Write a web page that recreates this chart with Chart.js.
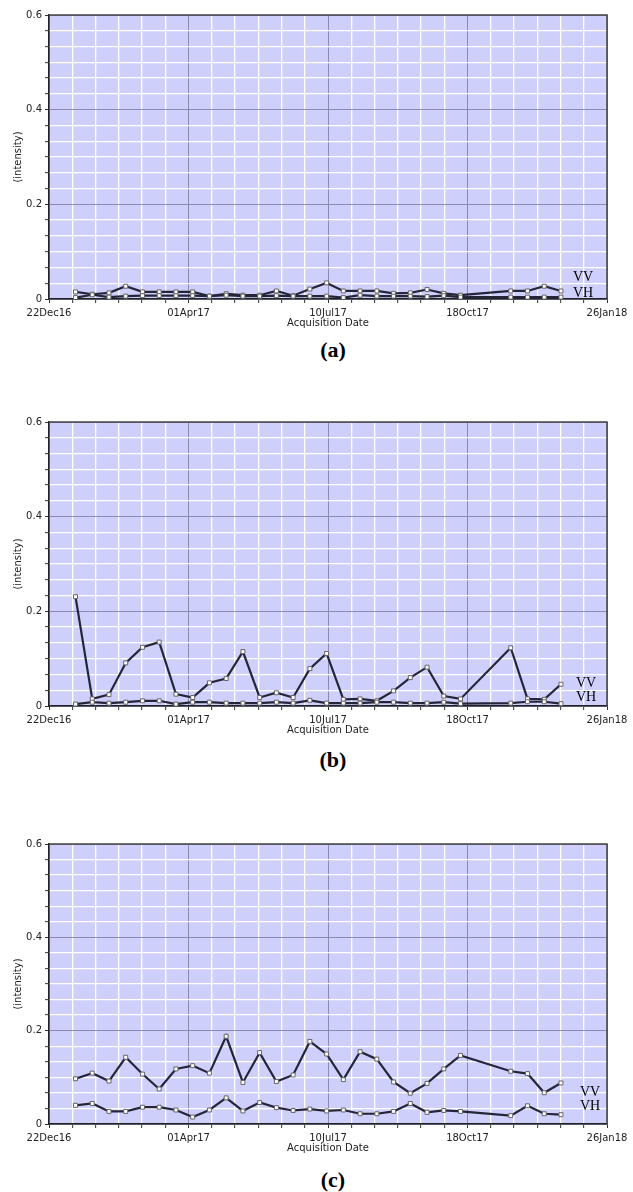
<!DOCTYPE html>
<html lang="en">
<head>
  <meta charset="UTF-8" />
  <title>VV / VH intensity vs acquisition date</title>
  <script src="https://cdn.jsdelivr.net/npm/chart.js"></script>
  <style>
    * { box-sizing: border-box; }
    html, body { margin: 0; padding: 0; background: #fff; }
    body { position: relative; width: 633px; height: 1192px; overflow: hidden; }
    canvas { position: absolute; left: 0; display: block; }
    .tag {
      position: absolute; left: 283px; width: 100px; text-align: center;
      font: bold 22px/24px "Liberation Serif", "Times New Roman", serif; color: #000;
    }
  </style>
</head>
<body>
  <canvas id="panelA" width="633" height="333" style="top:0px"></canvas>
  <div class="tag" style="top:338px">(a)</div>

  <canvas id="panelB" width="633" height="333" style="top:407px"></canvas>
  <div class="tag" style="top:748px">(b)</div>

  <canvas id="panelC" width="633" height="329" style="top:829px"></canvas>
  <div class="tag" style="top:1168px">(c)</div>

  <script>
    // --- data ---
    const startDate = '2016-12-22';
    const acqDates = [
      '2017-01-10', '2017-01-22', '2017-02-03', '2017-02-15', '2017-02-27', '2017-03-11', '2017-03-23',
      '2017-04-04', '2017-04-16', '2017-04-28', '2017-05-10', '2017-05-22', '2017-06-03', '2017-06-15',
      '2017-06-27', '2017-07-09', '2017-07-21', '2017-08-02', '2017-08-14', '2017-08-26', '2017-09-07',
      '2017-09-19', '2017-10-01', '2017-10-13', '2017-11-18', '2017-11-30', '2017-12-12', '2017-12-24'
    ];

    const vvA = [0.015, 0.010, 0.013, 0.027, 0.015, 0.015, 0.015, 0.015, 0.006, 0.011, 0.008, 0.008, 0.017, 0.007,
                 0.021, 0.034, 0.017, 0.017, 0.017, 0.012, 0.013, 0.020, 0.012, 0.008, 0.017, 0.017, 0.027, 0.017];
    const vhA = [0.003, 0.009, 0.004, 0.006, 0.007, 0.007, 0.007, 0.007, 0.006, 0.008, 0.006, 0.006, 0.007, 0.006,
                 0.006, 0.006, 0.003, 0.008, 0.006, 0.006, 0.006, 0.005, 0.007, 0.004, 0.004, 0.004, 0.004, 0.004];

    const vvB = [0.231, 0.015, 0.024, 0.091, 0.124, 0.135, 0.025, 0.018, 0.049, 0.058, 0.115, 0.018, 0.028, 0.018,
                 0.079, 0.111, 0.014, 0.015, 0.011, 0.032, 0.060, 0.082, 0.021, 0.015, 0.123, 0.015, 0.014, 0.046];
    const vhB = [0.004, 0.008, 0.006, 0.008, 0.011, 0.011, 0.004, 0.008, 0.008, 0.006, 0.006, 0.006, 0.008, 0.006,
                 0.012, 0.006, 0.006, 0.006, 0.008, 0.008, 0.006, 0.006, 0.008, 0.005, 0.006, 0.009, 0.009, 0.005];

    const vvC = [0.097, 0.109, 0.092, 0.143, 0.107, 0.075, 0.118, 0.125, 0.109, 0.188, 0.089, 0.153, 0.091, 0.105,
                 0.177, 0.150, 0.095, 0.155, 0.139, 0.090, 0.066, 0.087, 0.118, 0.147, 0.113, 0.108, 0.067, 0.088];
    const vhC = [0.040, 0.044, 0.027, 0.027, 0.036, 0.036, 0.030, 0.015, 0.030, 0.056, 0.028, 0.046, 0.035, 0.029,
                 0.032, 0.028, 0.030, 0.022, 0.022, 0.027, 0.044, 0.025, 0.029, 0.027, 0.018, 0.039, 0.022, 0.020];

    const xTickLabels = ['22Dec16', '01Apr17', '10Jul17', '18Oct17', '26Jan18'];
    const yTickLabels = ['0', '0.2', '0.4', '0.6'];

    // --- axis set-up: 100 days / 0.2 between labels, 6 minor steps each ---
    const SUB = 6;
    const DAY = 86400000;
    const t0 = Date.parse(startDate);
    const dayOf = d => Math.round((Date.parse(d) - t0) / DAY);
    const xDays = acqDates.map(dayOf);
    const xMax = 100 * (xTickLabels.length - 1);
    const yMax = 0.2 * (yTickLabels.length - 1);
    const xTickVals = [];
    for (let i = 0; i <= SUB * (xTickLabels.length - 1); i++) xTickVals.push(i * 100 / SUB);
    const yTickVals = [];
    for (let i = 0; i <= SUB * (yTickLabels.length - 1); i++) yTickVals.push(i * 0.2 / SUB);

    const AXIS_FONT = { family: 'DejaVu Sans', size: 10 };
    const TEXT = '#222';
    const MAJOR = '#8b8bb0', MINOR = '#ffffff';

    const plotFrame = {
      id: 'plotFrame',
      beforeDraw(chart) {
        const { ctx, chartArea: a } = chart;
        ctx.save();
        ctx.fillStyle = '#cfcffb';
        ctx.fillRect(a.left, a.top, a.right - a.left, a.bottom - a.top);
        ctx.restore();
      },
      beforeDatasetsDraw(chart) {
        const { ctx, chartArea: a } = chart;
        ctx.save();
        ctx.strokeStyle = '#444';
        ctx.lineWidth = 1.5;
        ctx.beginPath();
        ctx.moveTo(a.left, a.top);
        ctx.lineTo(a.right, a.top);
        ctx.lineTo(a.right, a.bottom);
        ctx.stroke();
        ctx.restore();
      },
      afterDraw(chart, args, opts) {
        const { ctx, chartArea: a } = chart;
        ctx.save();
        ctx.font = '14px "Liberation Serif", "Times New Roman", serif';
        ctx.fillStyle = '#000';
        ctx.textAlign = 'center';
        ctx.textBaseline = 'middle';
        opts.tags.forEach(t => ctx.fillText(t.text, a.right - t.dx, a.bottom - t.dy));
        ctx.restore();
      }
    };

    function series(label, values) {
      return {
        label,
        data: values.map((v, i) => ({ x: xDays[i], y: v })),
        borderColor: '#25253a',
        borderWidth: 2.2,
        tension: 0,
        pointStyle: 'rect',
        pointRadius: 2.8,
        pointBackgroundColor: '#ffffff',
        pointBorderColor: '#666',
        pointBorderWidth: 1
      };
    }

    function makePanel(id, vv, vh, tags) {
      new Chart(document.getElementById(id), {
        type: 'line',
        data: { datasets: [series('VH', vh), series('VV', vv)] },
        options: {
          responsive: false,
          animation: false,
          layout: { padding: { top: 15, right: 26, left: 0, bottom: 0 } },
          plugins: {
            legend: { display: false },
            tooltip: { enabled: false },
            plotFrame: { tags }
          },
          scales: {
            x: {
              type: 'linear', min: 0, max: xMax,
              afterBuildTicks: s => { s.ticks = xTickVals.map(v => ({ value: v })); },
              afterFit: s => { s.height = 34; },
              ticks: {
                autoSkip: false, maxRotation: 0, minRotation: 0, padding: 4,
                color: TEXT, font: AXIS_FONT,
                callback: (v, i) => (i % SUB === 0 ? xTickLabels[i / SUB] : '')
              },
              grid: {
                color: c => (c.index % SUB === 0 ? MAJOR : MINOR),
                lineWidth: c => (c.index % SUB === 0 ? 1 : 1.3),
                tickColor: '#333', tickLength: 4, tickWidth: 1
              },
              border: { display: true, color: '#222', width: 1.5 },
              title: {
                display: true, text: 'Acquisition Date', color: TEXT, font: AXIS_FONT,
                padding: { top: 0, bottom: 4 }
              }
            },
            y: {
              min: 0, max: yMax,
              afterBuildTicks: s => { s.ticks = yTickVals.map(v => ({ value: v })); },
              afterFit: s => { s.width = 49; },
              ticks: {
                autoSkip: false, padding: 3, color: TEXT, font: AXIS_FONT,
                callback: (v, i) => (i % SUB === 0 ? yTickLabels[i / SUB] : '')
              },
              grid: {
                color: c => (c.index % SUB === 0 ? MAJOR : MINOR),
                lineWidth: c => (c.index % SUB === 0 ? 1 : 1.3),
                tickColor: '#333', tickLength: 4, tickWidth: 1
              },
              border: { display: true, color: '#222', width: 1.5 },
              title: {
                display: true, text: '(intensity)', color: TEXT, font: AXIS_FONT,
                padding: { top: 12, bottom: 0 }
              }
            }
          }
        },
        plugins: [plotFrame]
      });
    }

    makePanel('panelA', vvA, vhA, [{ text: 'VV', dx: 24, dy: 22 }, { text: 'VH', dx: 24, dy: 6 }]);
    makePanel('panelB', vvB, vhB, [{ text: 'VV', dx: 21, dy: 23 }, { text: 'VH', dx: 21, dy: 9 }]);
    makePanel('panelC', vvC, vhC, [{ text: 'VV', dx: 17, dy: 32 }, { text: 'VH', dx: 17, dy: 18 }]);
  </script>
</body>
</html>
